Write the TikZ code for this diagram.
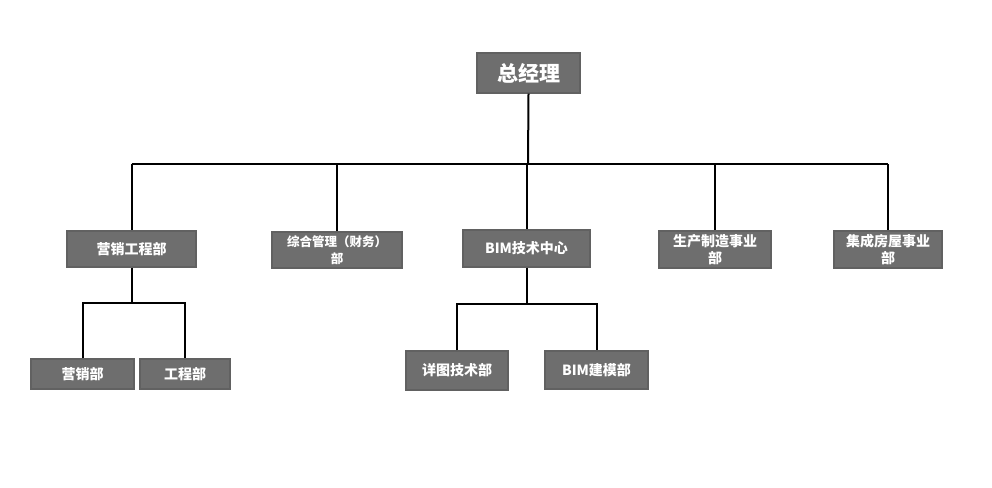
\documentclass[tikz,border=0pt]{standalone}
\usepackage{fontspec}
\newfontfamily\cjk{Noto Sans CJK SC}
\usepackage{tikz}
\usetikzlibrary{shadows}

\begin{document}
\begin{tikzpicture}[x=1pt,y=-1pt,
    unit/.style={draw=black!62, line width=1.2pt, fill=black!57, text=white,
      inner sep=1pt, align=center,
      drop shadow={opacity=0.25, shadow xshift=1.2pt, shadow yshift=-1.2pt},
      font=\cjk\bfseries\fontsize{14}{16.5}\selectfont},
    link/.style={line width=2pt}]
    \useasboundingbox (0,0) rectangle (992,487);

    % Top: general manager
    \node[unit, minimum width=103pt, minimum height=40pt,
      font=\cjk\bfseries\fontsize{21}{23}\selectfont] (gm) at (528.5,73) {总经理};

    % Second level departments
    \node[unit, minimum width=129pt, minimum height=36pt] (yxgc) at (131.5,249) {营销工程部};
    \node[unit, minimum width=130pt, minimum height=36pt,
      font=\cjk\bfseries\fontsize{12.5}{16.5}\selectfont] (zhgl) at (337,250) {综合管理（财务）\\部};
    \node[unit, minimum width=127pt, minimum height=37pt] (bim) at (526.5,248.5) {BIM技术中心};
    \node[unit, minimum width=112pt, minimum height=37pt] (sczz) at (715,249.5) {生产制造事业\\部};
    \node[unit, minimum width=108pt, minimum height=37pt] (jcfw) at (888,249.5) {集成房屋事业\\部};

    % Third level
    \node[unit, minimum width=103pt, minimum height=30pt] (yx) at (82.5,374) {营销部};
    \node[unit, minimum width=90pt, minimum height=30pt] (gc) at (185,374) {工程部};
    \node[unit, minimum width=102pt, minimum height=39pt] (xt) at (457,370.5) {详图技术部};
    \node[unit, minimum width=103pt, minimum height=38pt] (jm) at (596.5,370) {BIM建模部};

    % Main bar under the manager
    \coordinate (bar) at (528,164);
    \draw[link] (gm.south) -- (bar);
    \draw[link] (yxgc.north |- bar) -- (jcfw.north |- bar);
    \foreach \d in {yxgc,zhgl,bim,sczz,jcfw}
      \draw[link] (\d.north |- bar) -- (\d.north);

    % Branches below
    \coordinate (barA) at (133,303);
    \draw[link] (yxgc.south) -- (yxgc.south |- barA);
    \draw[link] (yx.north) |- (barA) -| (gc.north);
    \coordinate (barB) at (528,304);
    \draw[link] (bim.south) -- (bim.south |- barB);
    \draw[link] (xt.north) |- (barB) -| (jm.north);
\end{tikzpicture}
\end{document}
